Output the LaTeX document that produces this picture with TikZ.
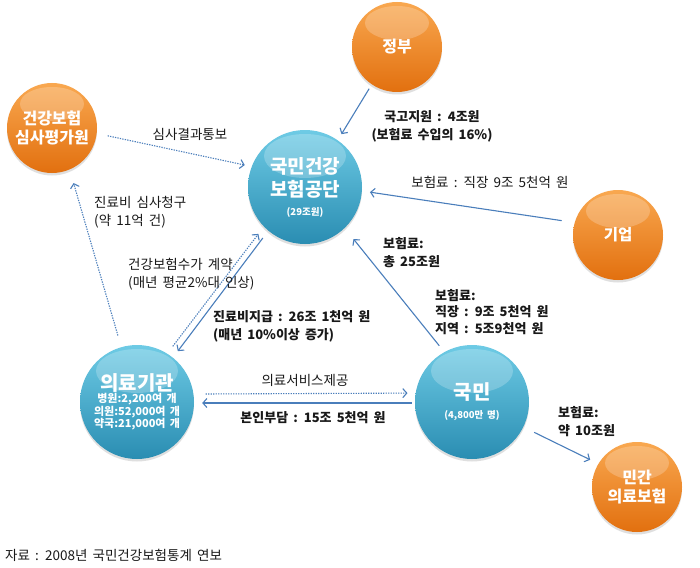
\documentclass[tikz,border=0pt]{standalone}
\usepackage{fontspec}
\setmainfont{Noto Sans CJK KR}[WordSpace=1.7]
\usetikzlibrary{arrows.meta,shadows}
\definecolor{orangetop}{HTML}{F9A850}
\definecolor{orangebot}{HTML}{E2700F}
\definecolor{bluetop}{HTML}{6ECBE5}
\definecolor{bluebot}{HTML}{2A8DB2}
\definecolor{linkblue}{HTML}{4A7EBB}
\tikzset{
  ball/.style={circle, inner sep=0pt, align=center, text=white,
    drop shadow={opacity=0.25, shadow xshift=0pt, shadow yshift=-2.5pt}},
  smallball/.style={ball, minimum size=90pt,
    path picture={\fill[white, opacity=0.22] ([yshift=-21pt]path picture bounding box.north)
      ellipse [x radius=32pt, y radius=17pt];}},
  bigball/.style={ball, minimum size=114pt,
    path picture={\fill[white, opacity=0.22] ([yshift=-26pt]path picture bounding box.north)
      ellipse [x radius=41pt, y radius=22pt];}},
  orangeball/.style={top color=orangetop, bottom color=orangebot},
  blueball/.style={top color=bluetop, bottom color=bluebot},
  flow/.style={draw=linkblue, line width=1.1pt, -{Straight Barb[length=4pt,width=9pt]}},
  dotflow/.style={flow, dash pattern=on 1.3pt off 1.2pt},
  lbl/.style={font=\fontsize{13.5}{18}\selectfont, text=black!90, inner sep=0pt},
  boldlbl/.style={lbl, font=\fontsize{13}{18}\selectfont\bfseries},
}
\begin{document}
\begin{tikzpicture}[x=1pt, y=-1pt]
\useasboundingbox[fill=white] (0,0) rectangle (700,567);

% circles
\node[smallball, orangeball, font=\fontsize{16}{18}\selectfont\bfseries] (gov) at (397,47) {정부};
\node[smallball, orangeball, font=\fontsize{16}{19}\selectfont\bfseries] (hira) at (52,128) {건강보험\\심사평가원};
\node[bigball, blueball, font=\fontsize{19}{23}\selectfont\bfseries] (nhic) at (305,187)
  {국민건강\\보험공단\\[-4pt]{\fontsize{9.5}{10}\selectfont (29조원)}};
\node[smallball, orangeball, font=\fontsize{15.5}{18}\selectfont\bfseries] (firm) at (618,235) {기업};
\node[bigball, blueball, font=\fontsize{11}{12.5}\selectfont\bfseries] (hosp) at (137,402)
  {{\fontsize{20}{22}\selectfont 의료기관}\\병원:2,200여 개\\의원:52,000여 개\\약국:21,000여 개};
\node[bigball, blueball, font=\fontsize{20}{22}\selectfont\bfseries] (people) at (472,402)
  {국민\\[-3pt]{\fontsize{9.5}{10}\selectfont (4,800만 명)}};
\node[smallball, orangeball, font=\fontsize{16}{19}\selectfont\bfseries] (priv) at (637,487) {민간\\의료보험};

% connectors
\draw[flow, shorten <=5pt, shorten >=7pt] (gov.236) -- (nhic.55);
\draw[flow, shorten <=13pt, shorten >=8pt] (firm.164) -- (nhic.356);
\draw[flow, shorten <=8pt, shorten >=14pt] (people.119) -- (nhic.314);
\draw[flow, shorten <=12pt, shorten >=9pt] (people.334) -- (priv.149);
\draw[flow, shorten <=9pt, shorten >=8pt] (nhic.230) -- (hosp.51);
\draw[dotflow, shorten <=9pt, shorten >=9pt] (hosp.58) -- (nhic.224);
\draw[dotflow, shorten <=12pt, shorten >=14pt] (hosp.106) -- (hira.293);
\draw[dotflow, shorten <=11pt, shorten >=7pt] (hira.353) -- (nhic.159);
\draw[dotflow, shorten <=12pt, shorten >=8pt] (hosp.8) -- (people.171);
\draw[flow, shorten <=3pt, shorten >=8pt] (people.181) -- (hosp.359);

% labels
\node[lbl] (l-review) at (190,134) {심사결과통보};
\node[lbl, anchor=west, align=left] (l-claim) at (94,212) {진료비 심사청구\\(약 11억 건)};
\node[lbl, anchor=west, align=left] (l-fee) at (128,274) {건강보험수가 계약\\(매년 평균2\%대 인상)};
\node[boldlbl, anchor=west, align=left] (l-pay) at (213,326) {진료비지급 : 26조 1천억 원\\(매년 10\%이상 증가)};
\node[lbl] (l-service) at (305,380) {의료서비스제공};
\node[boldlbl] (l-copay) at (313,418) {본인부담 : 15조 5천억 원};
\node[boldlbl, align=center] (l-subsidy) at (432,126) {국고지원 : 4조원\\(보험료 수입의 16\%)};
\node[lbl] (l-firm) at (490,182) {보험료 : 직장 9조 5천억 원};
\node[boldlbl, anchor=west, align=left] (l-total) at (383,253) {보험료:\\총 25조원};
\node[boldlbl, anchor=west, align=left, font=\fontsize{13}{16.5}\selectfont\bfseries] (l-people) at (435,312)
  {보험료:\\직장 : 9조 5천억 원\\지역 : 5조9천억 원};
\node[boldlbl, anchor=west, align=left] (l-priv) at (558,422) {보험료:\\약 10조원};
\node[lbl, anchor=west] (l-source) at (5,555) {자료 : 2008년 국민건강보험통계 연보};
\end{tikzpicture}
\end{document}
